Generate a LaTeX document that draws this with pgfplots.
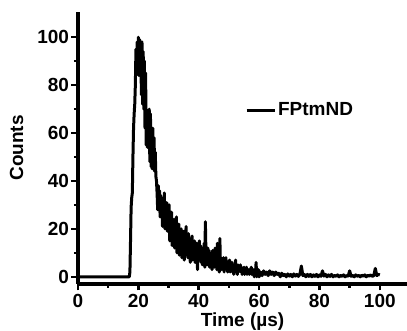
\documentclass[border=0pt]{standalone}
\usepackage{fontspec}
\setmainfont{Liberation Sans}
\usepackage{pgfplots}
\pgfplotsset{compat=1.18}
\begin{document}
\begin{tikzpicture}
\begin{axis}[
  scale only axis,
  width=329pt, height=272pt,
  xmin=0, xmax=109, ymin=-3, ymax=110.5,
  axis lines=left,
  axis line style={-, line width=3.5pt},
  tick align=outside,
  xtick={0,20,40,60,80,100},
  ytick={0,20,40,60,80,100},
  minor tick num=1,
  major tick length=6.5pt,
  minor tick length=4pt,
  every tick/.style={black, line width=2.6pt},
  /pgf/number format/assume math mode=true,
  tick label style={font=\fontsize{19}{19}\selectfont\bfseries},
  yticklabel style={xshift=1pt},
  xticklabel style={yshift=0pt},
  xlabel={Time (µs)},
  ylabel={Counts},
  label style={font=\fontsize{19}{19}\selectfont\bfseries},
  xlabel style={yshift=1.5pt},
  ylabel style={yshift=7pt},
  legend style={at={(axis cs:55.3,69.6)}, anchor=west, draw=none, fill=none,
    font=\fontsize{19}{19}\selectfont\bfseries, inner sep=0pt},
  legend cell align=left,
  legend image code/.code={\draw[line width=3pt] (0pt,0pt) -- (28pt,0pt);},
]
\addplot[black, line width=3pt, line join=round] coordinates {
(0,1) (0.3,0) (5,0) (10,0) (15,0) (17,0) (17.2,2) (17.4,15) (17.6,29) (17.8,33)
(18,35) (18.2,50) (18.4,62) (18.6,68) (18.8,72) (19,80) (19.2,95) (19.4,86) (19.6,98) (19.8,90)
(20,100) (20.2,84) (20.4,99) (20.6,88) (20.8,97) (21,76) (21.2,98) (21.4,72) (21.6,94) (21.8,70)
(22,90) (22.2,62) (22.4,85) (22.6,55) (22.8,66) (23,54) (23.2,68) (23.4,56) (23.6,70) (23.8,48)
(24,68) (24.2,46) (24.4,60) (24.6,45) (24.8,62) (25,47) (25.2,58) (25.4,44) (25.6,52) (25.8,42)
(26,40) (26.2,35) (26.4,28) (26.6,38) (26.8,30) (27,36) (27.2,25) (27.4,34) (27.6,26) (27.8,33)
(28,21) (28.2,30) (28.4,23) (28.6,35) (28.8,20) (29,28) (29.2,22) (29.4,31) (29.6,19) (29.8,27)
(30,21) (30.2,30) (30.4,15) (30.6,25) (30.8,18) (31,27) (31.2,13) (31.4,22) (31.6,17) (31.8,24)
(32,12) (32.2,21) (32.4,16) (32.6,25) (32.8,10) (33,20) (33.2,14) (33.4,22) (33.6,9) (33.8,18)
(34,12) (34.2,20) (34.4,8) (34.6,17) (34.8,11) (35,19) (35.2,7) (35.4,16) (35.6,12) (35.8,21)
(36,9) (36.2,15) (36.4,8) (36.6,18) (36.8,10) (37,14) (37.2,6) (37.4,16) (37.6,9) (37.8,17)
(38,7) (38.2,13) (38.4,10) (38.6,15) (38.8,6) (39,12) (39.2,8) (39.4,14) (39.6,3) (39.8,12)
(40,7) (40.2,15) (40.4,9) (40.6,13) (40.8,6) (41,11) (41.2,5) (41.4,12) (41.6,8) (41.8,14)
(42,4) (42.2,23) (42.4,9) (42.6,10) (42.8,5) (43,12) (43.2,7) (43.4,11) (43.6,4) (43.8,10)
(44,6) (44.2,9) (44.4,3) (44.6,11) (44.8,5) (45,9) (45.2,4) (45.4,12) (45.6,5) (45.8,8)
(46,3) (46.2,14) (46.4,5) (46.6,9) (46.8,2) (47,16) (47.2,4) (47.4,8) (47.6,3) (47.8,7)
(48,5) (48.2,8) (48.4,2) (48.6,6) (48.8,4) (49,8) (49.2,3) (49.4,6) (49.6,2) (49.8,5)
(50,3) (50.2,7) (50.4,2) (50.6,5) (50.8,3) (51,6) (51.2,2) (51.4,5) (51.6,1) (51.8,4)
(52,3) (52.2,7) (52.4,2) (52.6,4) (52.8,1) (53,5) (53.2,2) (53.4,4) (53.6,3) (53.8,5)
(54,2) (54.2,4) (54.4,1) (54.6,3) (54.8,2) (55,4) (55.2,1) (55.4,3) (55.6,2) (55.8,4)
(56,1) (56.2,3) (56.4,2) (56.6,3) (56.8,1) (57,3) (57.2,2) (57.4,4) (57.6,1) (57.8,3)
(58,2) (58.2,3) (58.4,0) (58.6,3) (58.8,1) (59,6) (59.2,0) (59.4,3) (59.6,1) (59.8,3)
(60,0) (60.5,2) (61,0.5) (61.5,2.5) (62,1) (62.5,2) (63,0.5) (63.5,2.5) (64,1) (64.5,2)
(65,0.5) (65.5,2) (66,1) (66.5,1.5) (67,0) (67.5,1.5) (68,0.5) (68.5,1) (69,0) (69.5,1.2)
(70,0.3) (70.5,1) (71,0) (71.5,1.2) (72,0.3) (72.5,1) (73,0.2) (73.5,1) (74,4.5) (74.5,0.5)
(75,1) (75.5,0) (76,1) (76.5,0.2) (77,1) (77.5,0) (78,0.8) (78.5,0.2) (79,1) (79.5,0)
(80,0.8) (80.5,0.2) (81,2.5) (81.5,0.3) (82,1) (82.5,0) (83,0.8) (83.5,0.2) (84,1) (84.5,0)
(85,0.6) (85.5,0.2) (86,0.8) (86.5,0) (87,0.6) (87.5,0.2) (88,0.8) (88.5,0) (89,0.5) (89.5,0.3)
(90,2.5) (90.5,0.2) (91,0.6) (91.5,0) (92,0.8) (92.5,0.2) (93,0.6) (93.5,0) (94,0.7) (94.5,0.2)
(95,0.8) (95.5,0) (96,0.6) (96.5,0.3) (97,0.8) (97.5,0.2) (98,0.5) (98.5,3.5) (99,0.5) (99.5,1)
(100,0.8)
};
\addlegendentry{FPtmND}
\end{axis}
\pgfresetboundingbox
\path (-78pt,-47pt) rectangle (329pt,284pt);
\end{tikzpicture}
\end{document}
